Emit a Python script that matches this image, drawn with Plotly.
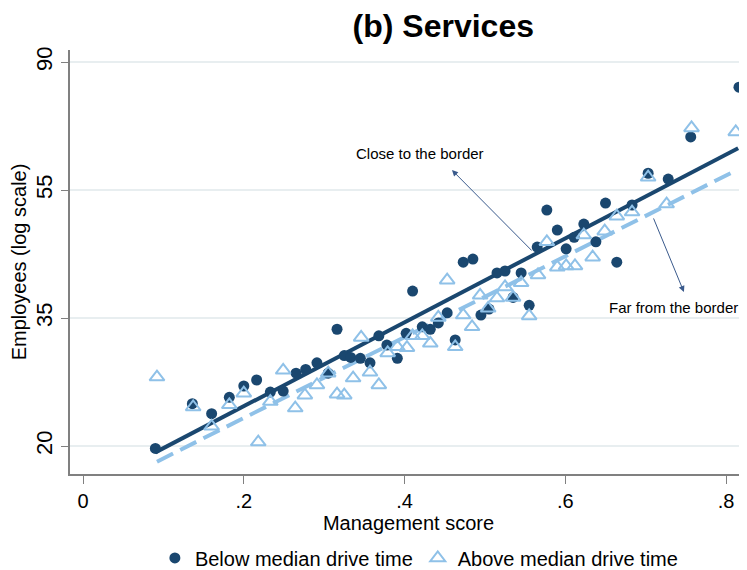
import numpy as np
import plotly.graph_objects as go

# Binned scatter: management score vs employees
below_x = [0.090, 0.136, 0.160, 0.182, 0.200, 0.216, 0.233, 0.249, 0.265, 0.277,
           0.291, 0.305, 0.316, 0.325, 0.333, 0.345, 0.357, 0.368, 0.378, 0.391,
           0.402, 0.410, 0.422, 0.432, 0.442, 0.453, 0.463, 0.473, 0.485, 0.495,
           0.505, 0.515, 0.525, 0.535, 0.545, 0.555, 0.565, 0.577, 0.590, 0.601,
           0.611, 0.623, 0.638, 0.650, 0.664, 0.683, 0.703, 0.728, 0.756, 0.816]
below_emp = [19.9, 23.7, 22.8, 24.3, 25.4, 26.0, 24.8, 24.9, 26.7, 27.1,
             27.8, 26.7, 31.7, 28.6, 28.4, 28.3, 27.8, 30.9, 29.8, 28.3,
             31.2, 36.8, 32.0, 31.7, 32.5, 33.8, 30.4, 41.2, 41.7, 33.5,
             34.3, 39.5, 39.8, 35.9, 39.5, 34.8, 43.7, 50.5, 46.7, 43.4,
             45.4, 47.8, 44.6, 51.9, 41.2, 51.5, 58.3, 57.0, 67.2, 81.6]

above_x = [0.092, 0.137, 0.160, 0.182, 0.200, 0.218, 0.233, 0.249, 0.264, 0.276,
           0.291, 0.305, 0.316, 0.325, 0.336, 0.346, 0.357, 0.368, 0.379, 0.391,
           0.403, 0.410, 0.422, 0.432, 0.442, 0.453, 0.463, 0.473, 0.484, 0.494,
           0.504, 0.515, 0.525, 0.535, 0.545, 0.555, 0.566, 0.577, 0.590, 0.601,
           0.612, 0.623, 0.634, 0.649, 0.664, 0.683, 0.703, 0.726, 0.757, 0.812]
above_emp = [26.3, 23.4, 21.7, 23.6, 24.7, 20.4, 23.9, 27.0, 23.3, 24.5,
             25.5, 26.7, 24.6, 24.5, 26.2, 30.7, 26.8, 25.5, 28.9, 29.6,
             29.5, 30.9, 30.9, 30.0, 33.2, 38.4, 29.6, 33.5, 32.0, 36.2,
             34.4, 35.8, 37.4, 35.9, 38.0, 33.4, 39.2, 44.6, 40.4, 40.6,
             40.6, 45.8, 42.0, 46.5, 49.3, 50.1, 57.4, 51.7, 69.6, 68.5]

# Fitted lines (end points)
fit_x_below = [0.090, 0.815]
fit_below = [19.6, 64.3]
fit_x_above = [0.092, 0.813]
fit_above = [18.9, 59.0]

x_ticks = [0, 0.2, 0.4, 0.6, 0.8]
x_tick_labels = ["0", ".2", ".4", ".6", ".8"]
y_tick_ln = [3.0, 3.5, 4.0, 4.5]
y_tick_labels = ["20", "35", "55", "90"]

NAVY = "#1a476f"
LIGHT = "#8fc1e8"
FONT = "Liberation Sans, Arial, sans-serif"

fig = go.Figure()
fig.add_trace(go.Scatter(x=fit_x_below, y=np.log(fit_below), mode="lines",
                         line=dict(color=NAVY, width=4), showlegend=False,
                         hoverinfo="skip"))
fig.add_trace(go.Scatter(x=fit_x_above, y=np.log(fit_above), mode="lines",
                         line=dict(color=LIGHT, width=4, dash="18px,8px"),
                         showlegend=False, hoverinfo="skip"))
fig.add_trace(go.Scatter(x=below_x, y=np.log(below_emp), mode="markers",
                         name="Below median drive time",
                         marker=dict(symbol="circle", size=11, color=NAVY)))
fig.add_trace(go.Scatter(x=above_x, y=np.log(above_emp), mode="markers",
                         name="Above median drive time",
                         marker=dict(symbol="triangle-up-open", size=13,
                                     color=LIGHT, line=dict(width=2, color=LIGHT))))

# Annotations with arrows
fig.add_annotation(x=0.459, y=4.078, ax=0.560, ay=3.758, xref="x", yref="y",
                   axref="x", ayref="y", text="", showarrow=True,
                   arrowhead=2, arrowsize=1.2, arrowwidth=1, arrowcolor="#3a5a8c")
fig.add_annotation(x=0.7475, y=3.602, ax=0.709, ay=3.895, xref="x", yref="y",
                   axref="x", ayref="y", text="", showarrow=True,
                   arrowhead=2, arrowsize=1.2, arrowwidth=1, arrowcolor="#3a5a8c")
fig.add_annotation(x=0.419, y=4.141, xref="x", yref="y", text="Close to the border",
                   showarrow=False, font=dict(size=15, color="black", family=FONT))
fig.add_annotation(x=0.734, y=3.543, xref="x", yref="y", text="Far from the border",
                   showarrow=False, font=dict(size=15, color="black", family=FONT))

fig.update_layout(
    width=739, height=562,
    margin=dict(l=62, r=0, t=42, b=96, autoexpand=False),
    paper_bgcolor="white", plot_bgcolor="white",
    font=dict(family=FONT, color="black"),
    title=dict(text="<b>(b) Services</b>", x=0.589, xref="container", xanchor="center",
               y=0.968, yref="container", yanchor="middle",
               font=dict(size=32, family=FONT)),
    legend=dict(orientation="h", x=0.556, xref="container", xanchor="center",
                y=0.0214, yref="container", yanchor="middle",
                font=dict(size=20, family=FONT), itemwidth=30,
                tracegroupgap=0),
    showlegend=True,
)
fig.update_xaxes(range=[-0.0162, 0.826], tickvals=x_ticks, ticktext=x_tick_labels,
                 showgrid=False, zeroline=False, showline=True, linecolor="#808080",
                 linewidth=1.5, ticks="outside", ticklen=8, tickcolor="#808080",
                 automargin=False,
                 tickfont=dict(size=20), title=dict(text="Management score",
                 font=dict(size=20), standoff=0))
fig.update_yaxes(range=[2.891, 4.547], tickvals=y_tick_ln, ticktext=y_tick_labels,
                 showgrid=True, gridcolor="#e8eef0", gridwidth=1.5, zeroline=False,
                 showline=True, linecolor="#808080", linewidth=1.5,
                 ticks="outside", ticklen=7, tickcolor="#808080", tickangle=-90,
                 automargin=False,
                 tickfont=dict(size=22), title=dict(text="Employees (log scale)",
                 font=dict(size=20), standoff=0))

fig.write_html("out.html")
